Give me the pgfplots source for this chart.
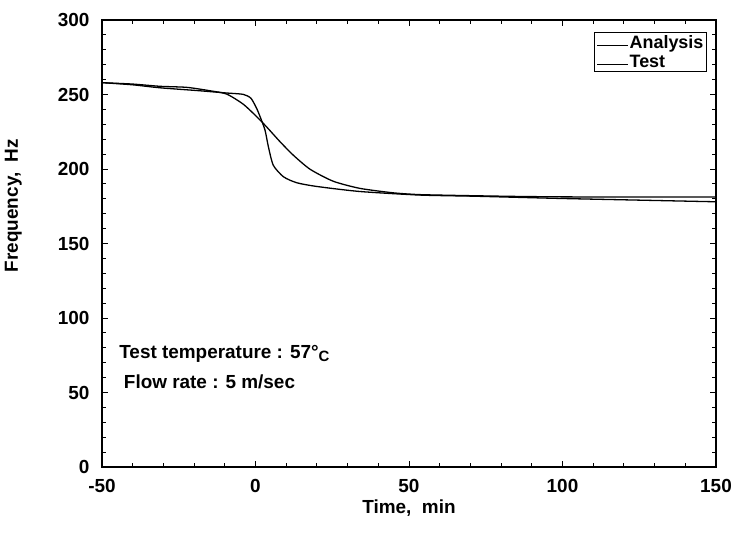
\documentclass[border=0pt]{standalone}
\usepackage{pgfplots}
\pgfplotsset{compat=1.18}
\usepackage{fontspec}
\setmainfont{Liberation Sans}

% Frequency change vs time, analysis and test
\begin{document}
\begin{tikzpicture}
\begin{axis}[
    scale only axis,
    width=614bp, height=447bp,
    xmin=-50, xmax=150, ymin=0, ymax=300,
    xtick={-50,0,50,100,150},
    ytick={0,50,100,150,200,250,300},
    minor x tick num=4, minor y tick num=4,
    tick align=inside,
    major tick length=6bp, minor tick length=4bp,
    every tick/.style={black, line width=0.9pt},
    axis line style={line width=1.3pt},
    font=\fontsize{19}{22}\selectfont\bfseries,
    /pgf/number format/assume math mode=true,
    yticklabel style={xshift=-9bp},
    xticklabel style={yshift=-9bp},
    xlabel={Time,\ \ min},
    ylabel={Frequency,\ \ Hz},
    ylabel style={at={(rel axis cs:-0.125,0.585)}, anchor=south},
    legend style={at={(0.985,0.973)}, anchor=north east, draw=black, line width=0.8pt,
        font=\fontsize{18}{20}\selectfont\bfseries, row sep=3pt, inner sep=2pt,
        nodes={inner sep=1pt}},
    legend cell align=left,
    legend image post style={line width=0.9pt},
    legend image code/.code={\draw[#1] (0cm,-0.08cm) -- (1.1cm,-0.08cm);},
]
\addplot[black, line width=1.3pt, smooth, tension=0.4] coordinates {
    (-49.6,257.9) (-40,257.0) (-31.1,255.5) (-22.4,254.8) (-14.8,252.5) (-9.4,250.3)
    (-4.0,243.5) (0.4,235.1) (3.6,228.3) (8.0,218.3) (12.3,209.3) (17.8,199.8)
    (25.3,191.8) (34.0,187.0) (44.9,184.0) (53.6,182.8) (70,182.1) (85,181.6)
    (100,181.3) (125,181.2) (150,181.2)
};
\addlegendentry{Analysis}
\addplot[black, line width=1.3pt, smooth, tension=0.4] coordinates {
    (-49.6,257.9) (-40,256.5) (-31.1,254.5) (-18.1,252.5) (-9.4,251.0) (-4.0,250.1)
    (-1.5,247.5) (0.3,241) (1.5,235.1) (3.1,226.1) (4.2,214.9) (5.8,202.5)
    (9.1,194.8) (13.4,190.8) (19.9,188.3) (34.0,184.9) (53.6,182.5) (70,181.8)
    (85,181.0) (100,180.2) (125,179.1) (150,178.0)
};
\addlegendentry{Test}
\node[anchor=base west, font=\fontsize{19}{22}\selectfont\bfseries] at (axis cs:-45.5,73) {Test temperature : 57\textdegree\raisebox{-0.35ex}{\fontsize{15}{17}\selectfont C}};
\node[anchor=base west, font=\fontsize{19}{22}\selectfont\bfseries] at (axis cs:-44,53) {Flow rate : 5 m/sec};
\end{axis}
\path (current axis.south west) ++(-102bp,-71.3bp) coordinate (bbA);
\path (current axis.north east) ++(20bp,20bp) coordinate (bbB);
\path (bbA) rectangle (bbB);
\end{tikzpicture}
\end{document}
